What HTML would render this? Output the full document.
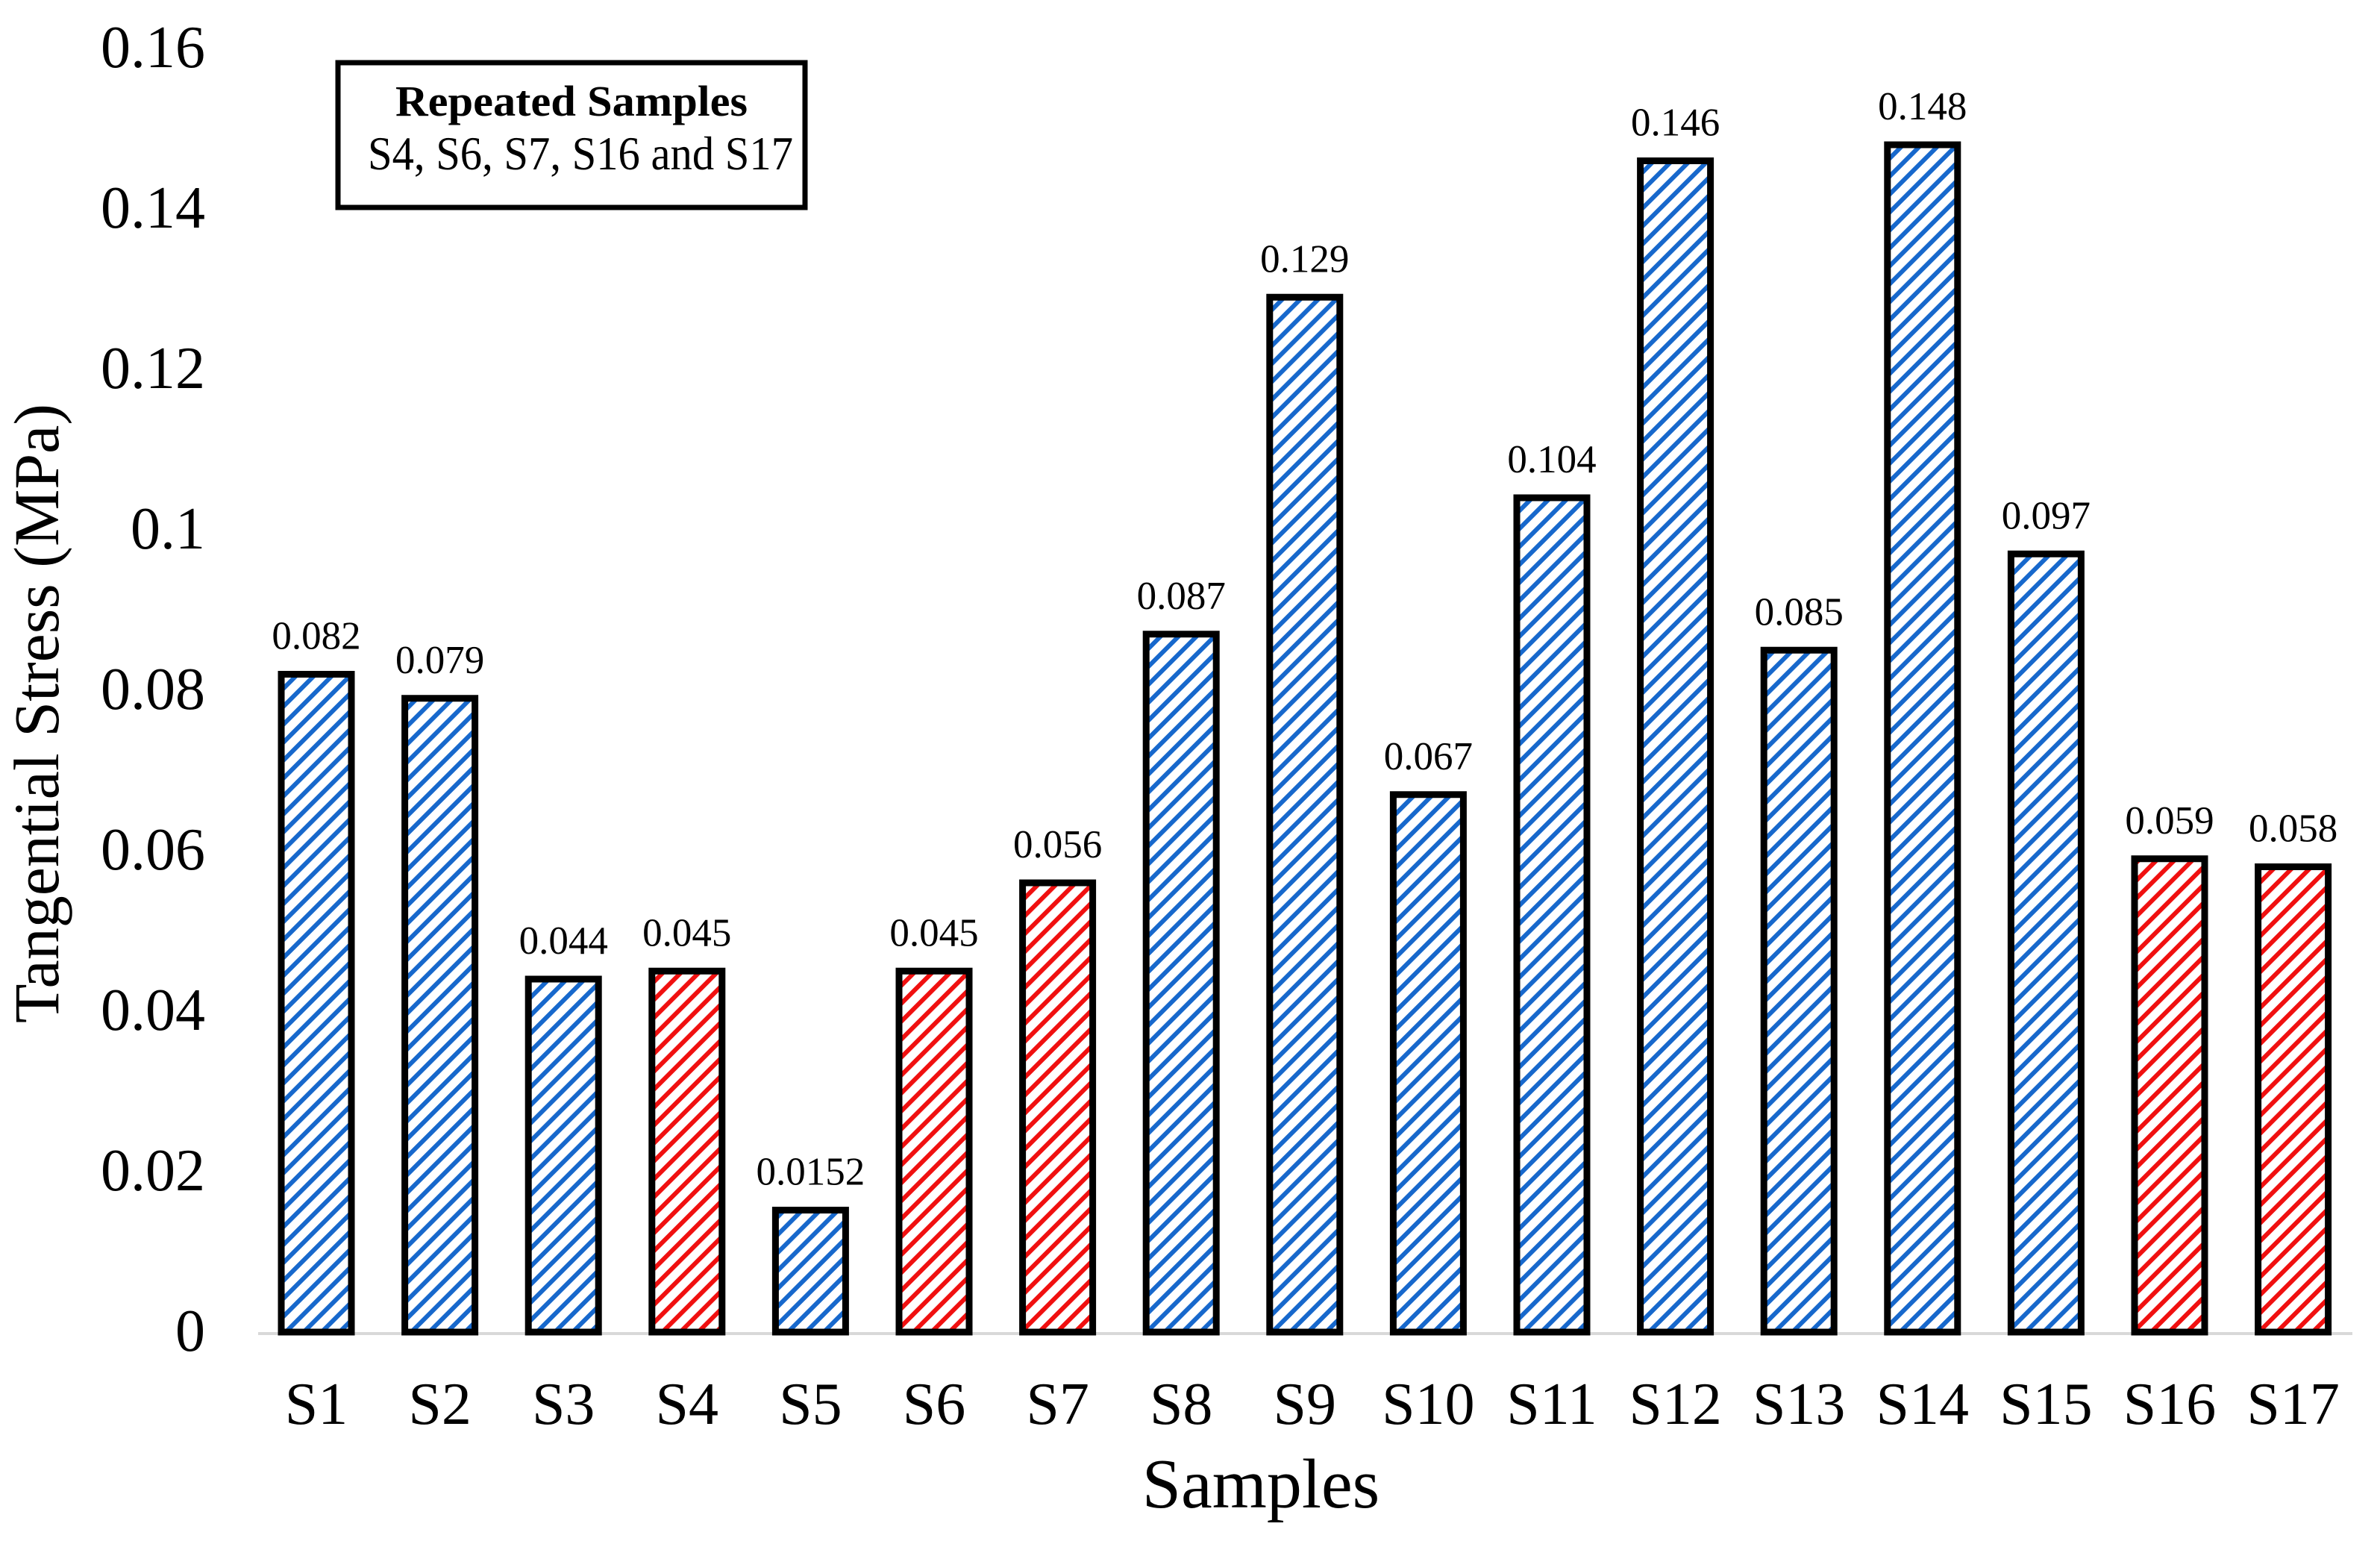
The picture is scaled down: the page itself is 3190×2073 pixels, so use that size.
<!DOCTYPE html>
<html><head><meta charset="utf-8"><style>html,body{margin:0;padding:0;background:#fff}svg{display:block}</style></head>
<body>
<svg width="3190" height="2073" viewBox="0 0 3190 2073" xmlns="http://www.w3.org/2000/svg" font-family="'Liberation Serif', serif">
<defs>
<pattern id="hb" patternUnits="userSpaceOnUse" width="17" height="17" patternTransform="rotate(45)">
<rect width="17" height="17" fill="#fff"/><rect x="0" y="0" width="6" height="17" fill="#1768cc"/></pattern>
<pattern id="hr" patternUnits="userSpaceOnUse" width="17" height="17" patternTransform="rotate(45)">
<rect width="17" height="17" fill="#fff"/><rect x="0" y="0" width="6" height="17" fill="#f01010"/></pattern>
</defs>
<rect width="3190" height="2073" fill="#fff"/>
<line x1="346" y1="1787" x2="3153" y2="1787" stroke="#d9d9d9" stroke-width="4"/>
<g font-size="80" text-anchor="end" fill="#000">
<text x="275" y="1810">0</text>
<text x="275" y="1595">0.02</text>
<text x="275" y="1380">0.04</text>
<text x="275" y="1165">0.06</text>
<text x="275" y="950">0.08</text>
<text x="275" y="735">0.1</text>
<text x="275" y="520">0.12</text>
<text x="275" y="305">0.14</text>
<text x="275" y="90">0.16</text>
</g>
<text transform="translate(78,956) rotate(-90)" font-size="86" text-anchor="middle">Tangential Stress (MPa)</text>
<text x="1690" y="2020" font-size="94" text-anchor="middle">Samples</text>
<rect x="453" y="84" width="626" height="194" fill="#fff" stroke="#000" stroke-width="7"/>
<text x="530" y="155" font-size="58" font-weight="bold" textLength="472" lengthAdjust="spacingAndGlyphs">Repeated Samples</text>
<text x="493" y="227" font-size="64" textLength="570" lengthAdjust="spacingAndGlyphs">S4, S6, S7, S16 and S17</text>
<g stroke="#000" stroke-width="9">
<rect x="377" y="903.5" width="94" height="881.5" fill="url(#hb)"/>
<rect x="542.6" y="935.75" width="94" height="849.25" fill="url(#hb)"/>
<rect x="708.2" y="1312" width="94" height="473" fill="url(#hb)"/>
<rect x="873.8" y="1301.25" width="94" height="483.75" fill="url(#hr)"/>
<rect x="1039.4" y="1621.6" width="94" height="163.4" fill="url(#hb)"/>
<rect x="1205" y="1301.25" width="94" height="483.75" fill="url(#hr)"/>
<rect x="1370.6" y="1183" width="94" height="602" fill="url(#hr)"/>
<rect x="1536.2" y="849.75" width="94" height="935.25" fill="url(#hb)"/>
<rect x="1701.8" y="398.25" width="94" height="1386.75" fill="url(#hb)"/>
<rect x="1867.4" y="1064.75" width="94" height="720.25" fill="url(#hb)"/>
<rect x="2033" y="667" width="94" height="1118" fill="url(#hb)"/>
<rect x="2198.6" y="215.5" width="94" height="1569.5" fill="url(#hb)"/>
<rect x="2364.2" y="871.25" width="94" height="913.75" fill="url(#hb)"/>
<rect x="2529.8" y="194" width="94" height="1591" fill="url(#hb)"/>
<rect x="2695.4" y="742.25" width="94" height="1042.75" fill="url(#hb)"/>
<rect x="2861" y="1150.75" width="94" height="634.25" fill="url(#hr)"/>
<rect x="3026.6" y="1161.5" width="94" height="623.5" fill="url(#hr)"/>
</g>
<g font-size="53" text-anchor="middle">
<text x="424" y="869.5">0.082</text>
<text x="589.6" y="901.75">0.079</text>
<text x="755.2" y="1278">0.044</text>
<text x="920.8" y="1267.25">0.045</text>
<text x="1086.4" y="1587.6">0.0152</text>
<text x="1252" y="1267.25">0.045</text>
<text x="1417.6" y="1149">0.056</text>
<text x="1583.2" y="815.75">0.087</text>
<text x="1748.8" y="364.25">0.129</text>
<text x="1914.4" y="1030.75">0.067</text>
<text x="2080" y="633">0.104</text>
<text x="2245.6" y="181.5">0.146</text>
<text x="2411.2" y="837.25">0.085</text>
<text x="2576.8" y="160">0.148</text>
<text x="2742.4" y="708.25">0.097</text>
<text x="2908" y="1116.75">0.059</text>
<text x="3073.6" y="1127.5">0.058</text>
</g>
<g font-size="80" text-anchor="middle">
<text x="424" y="1908">S1</text>
<text x="589.6" y="1908">S2</text>
<text x="755.2" y="1908">S3</text>
<text x="920.8" y="1908">S4</text>
<text x="1086.4" y="1908">S5</text>
<text x="1252" y="1908">S6</text>
<text x="1417.6" y="1908">S7</text>
<text x="1583.2" y="1908">S8</text>
<text x="1748.8" y="1908">S9</text>
<text x="1914.4" y="1908">S10</text>
<text x="2080" y="1908">S11</text>
<text x="2245.6" y="1908">S12</text>
<text x="2411.2" y="1908">S13</text>
<text x="2576.8" y="1908">S14</text>
<text x="2742.4" y="1908">S15</text>
<text x="2908" y="1908">S16</text>
<text x="3073.6" y="1908">S17</text>
</g>
</svg>
</body></html>
